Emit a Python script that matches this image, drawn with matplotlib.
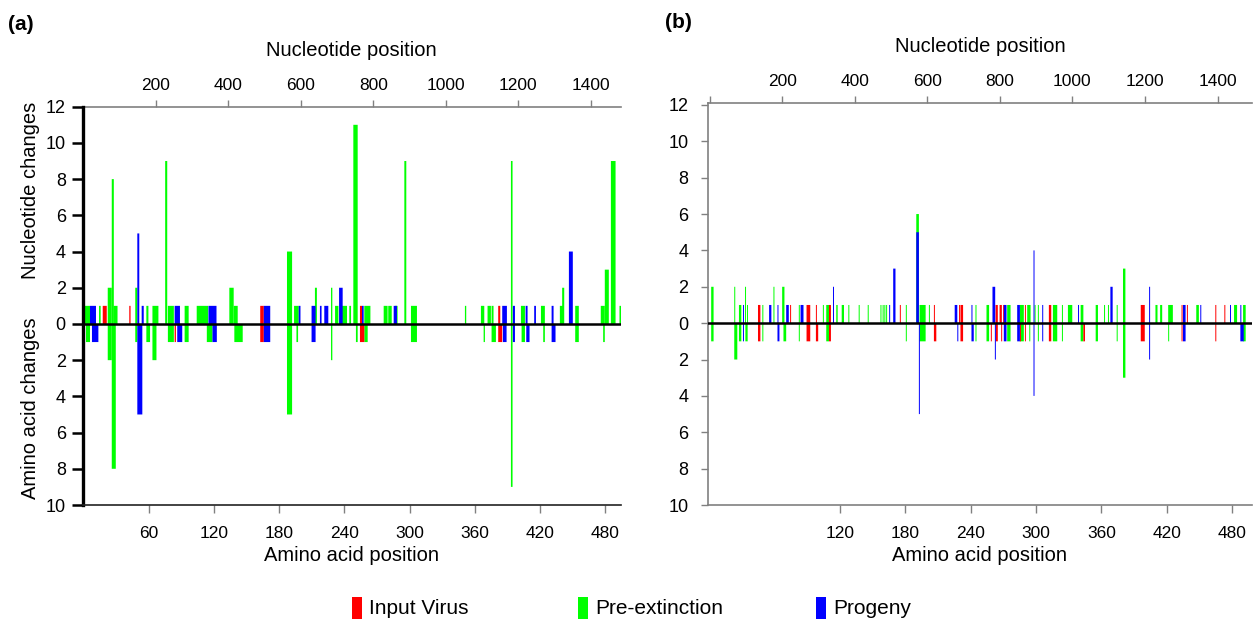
import matplotlib
matplotlib.use("Agg")
import matplotlib.pyplot as plt
from matplotlib.patches import Rectangle
from matplotlib.ticker import FuncFormatter

plt.rcParams['font.family'] = ['Liberation Sans', 'DejaVu Sans']

# each entry: (first aa position, last aa position, number of changes)
# panel (a)
A_INPUT_UP = [(17.9, 21.6, 1), (42.3, 43.5, 1), (162.7, 166.0, 1), (254.4, 256.3, 1), (381.5, 383.4, 1)]
A_INPUT_DOWN = [(84.0, 85.2, 1), (162.7, 166.0, 1), (254.4, 258.4, 1), (381.5, 385.2, 1)]
A_PRE_UP = [(0, 6.2, 1), (14.5, 16.0, 1), (22.5, 26.2, 2), (26.2, 28.1, 8), (27.8, 31.5, 1),
            (47.8, 49.7, 2), (58.0, 59.9, 1), (63.6, 69.1, 1), (75.3, 77.2, 9), (77.8, 83.3, 1),
            (93.2, 96.9, 1), (104.3, 114.8, 1), (134.3, 138.3, 2), (138.3, 142.0, 1), (187.3, 192.0, 4),
            (193.8, 198.1, 1), (213.0, 214.8, 2), (227.8, 229.0, 2), (231.5, 234.6, 1), (237.0, 242.5, 1),
            (244.6, 246.2, 1), (248.3, 252.3, 11), (258.4, 264.0, 1), (276.2, 279.8, 1), (280.4, 283.6, 1),
            (286.6, 289.0, 1), (295.2, 297.0, 9), (301.3, 306.8, 1), (350.9, 352.1, 1), (365.6, 368.7, 1),
            (371.7, 374.8, 1), (375.4, 377.2, 1), (393.2, 394.7, 9), (402.4, 406.1, 1), (420.8, 424.4, 1),
            (438.2, 441.6, 1), (440.3, 442.2, 2), (452.3, 455.6, 1), (475.8, 479.5, 1), (479.5, 483.2, 3),
            (485.1, 489.4, 9), (493.0, 495.2, 1)]
A_PRE_DOWN = [(2.5, 6.2, 1), (22.5, 26.2, 2), (26.2, 29.9, 8), (47.8, 49.7, 1), (58.0, 61.4, 1),
              (63.6, 67.3, 2), (77.8, 83.3, 1), (93.2, 96.9, 1), (113.6, 118.8, 1), (138.9, 146.6, 1),
              (187.3, 192.0, 5), (196.0, 197.5, 1), (227.8, 229.0, 2), (250.7, 252.3, 1), (258.4, 261.5, 1),
              (301.3, 306.8, 1), (368.1, 369.3, 1), (375.4, 379.4, 1), (393.2, 394.7, 9), (403.0, 406.1, 1),
              (422.9, 424.4, 1), (452.3, 455.6, 1), (478.0, 479.5, 1)]
A_PROG_UP = [(6.2, 11.7, 1), (49.7, 51.5, 5), (53.7, 55.6, 1), (84.0, 88.9, 1), (115.1, 122.5, 1),
             (166.0, 171.9, 1), (198.1, 199.7, 1), (209.9, 213.6, 1), (217.6, 219.1, 1), (221.6, 225.3, 1),
             (235.2, 238.5, 2), (256.3, 257.8, 1), (285.4, 288.4, 1), (385.2, 389.5, 1), (395.0, 396.9, 1),
             (406.7, 408.5, 1), (414.6, 416.2, 1), (430.6, 432.4, 1), (446.5, 450.1, 4)]
A_PROG_DOWN = [(8.0, 13.9, 1), (49.7, 54.3, 5), (86.4, 91.0, 1), (118.8, 122.8, 1), (166.0, 171.9, 1),
               (209.9, 213.6, 1), (385.8, 389.2, 1), (395.0, 396.9, 1), (407.3, 410.3, 1), (430.6, 434.2, 1)]

# panel (b)
B_INPUT_UP = [(44.5, 46.7, 1), (74.0, 74.9, 1), (89.1, 92.5, 1), (97.7, 98.6, 1), (109.7, 111.5, 1),
              (174.8, 175.7, 1), (206.1, 207.0, 1), (229.2, 230.1, 1), (230.5, 232.9, 1), (262.7, 264.8, 1),
              (266.4, 268.5, 1), (269.7, 271.3, 1), (289.7, 290.6, 1), (311.7, 313.9, 1), (396.1, 399.8, 1),
              (433.6, 434.5, 1), (438.5, 439.4, 1), (464.6, 465.5, 1), (472.9, 473.8, 1)]
B_INPUT_DOWN = [(44.5, 46.7, 1), (89.1, 92.5, 1), (97.7, 99.8, 1), (109.7, 111.5, 1), (206.1, 208.3, 1),
                (230.5, 232.9, 1), (258.4, 259.3, 1), (262.7, 264.8, 1), (267.9, 268.8, 1), (285.1, 286.0, 1),
                (289.7, 290.6, 1), (311.7, 313.9, 1), (343.4, 344.9, 1), (396.1, 399.8, 1), (433.6, 434.5, 1),
                (464.6, 465.5, 1)]
B_PRE_UP = [(1.5, 3.7, 2), (22.7, 23.6, 2), (27.0, 29.2, 1), (32.6, 33.5, 2), (34.4, 35.3, 1),
            (48.5, 49.4, 1), (58.7, 59.6, 2), (66.7, 68.8, 2), (82.0, 82.9, 1), (104.1, 105.0, 1),
            (107.2, 109.7, 1), (116.4, 117.7, 1), (121.4, 123.5, 1), (127.5, 128.4, 1), (137.0, 137.9, 1),
            (145.3, 146.2, 1), (157.0, 157.9, 1), (159.0, 159.9, 1), (160.6, 161.5, 1), (162.2, 163.1, 1),
            (180.3, 181.2, 1), (189.9, 192.3, 6), (192.9, 198.5, 1), (201.5, 202.4, 1), (244.3, 245.2, 1),
            (254.4, 256.8, 1), (273.4, 276.5, 1), (285.1, 288.7, 1), (291.8, 294.9, 1), (298.6, 299.5, 1),
            (301.6, 302.5, 1), (315.4, 319.4, 1), (323.7, 324.6, 1), (329.2, 333.2, 1), (340.9, 343.4, 1),
            (354.7, 356.8, 1), (362.4, 363.3, 1), (366.0, 366.9, 1), (374.0, 374.9, 1), (379.8, 382.0, 3),
            (409.6, 411.5, 1), (413.9, 415.8, 1), (421.3, 425.6, 1), (447.1, 449.5, 1), (481.8, 484.6, 1),
            (490.1, 492.5, 1)]
B_PRE_DOWN = [(1.5, 3.7, 1), (22.7, 25.5, 2), (27.0, 29.2, 1), (32.9, 35.0, 1), (48.5, 49.4, 1),
              (67.9, 70.4, 1), (82.0, 82.9, 1), (107.2, 109.7, 1), (180.3, 181.2, 1), (192.9, 198.5, 1),
              (244.3, 245.2, 1), (254.4, 256.8, 1), (273.4, 276.5, 1), (285.1, 288.7, 1), (293.7, 294.6, 1),
              (301.6, 302.5, 1), (315.4, 319.4, 1), (323.7, 324.6, 1), (340.9, 343.4, 1), (354.7, 356.8, 1),
              (374.0, 374.9, 1), (379.8, 382.0, 3), (421.3, 422.2, 1), (490.1, 492.5, 1)]
B_PROG_UP = [(30.7, 31.6, 1), (54.7, 56.8, 1), (62.4, 63.3, 1), (70.4, 72.8, 1), (83.6, 86.3, 1),
             (113.4, 114.3, 2), (165.0, 165.9, 1), (168.7, 170.8, 3), (189.9, 192.3, 5), (225.2, 227.6, 1),
             (240.6, 241.5, 1), (259.9, 262.4, 2), (270.3, 272.8, 1), (282.6, 285.1, 1), (297.6, 298.5, 4),
             (305.6, 306.5, 1), (338.5, 339.4, 1), (368.2, 370.3, 2), (403.8, 404.7, 2), (434.9, 437.3, 1),
             (450.8, 451.7, 1), (478.1, 479.0, 1), (487.6, 488.5, 1)]
B_PROG_DOWN = [(30.7, 31.6, 1), (62.4, 64.2, 1), (192.3, 193.2, 5), (227.6, 228.5, 1), (240.6, 242.7, 1),
               (262.1, 263.0, 2), (270.3, 272.8, 1), (282.6, 285.1, 1), (297.6, 298.5, 4), (305.6, 306.5, 1),
               (403.8, 404.7, 2), (434.9, 437.3, 1), (487.6, 490.7, 1)]

NT_TICKS = [200, 400, 600, 800, 1000, 1200, 1400]
AA_TICKS_A = [60, 120, 180, 240, 300, 360, 420, 480]
AA_TICKS_B = [120, 180, 240, 300, 360, 420, 480]
Y_TICKS = list(range(-10, 13, 2))
LEGEND_LABELS = ['Input Virus', 'Pre-extinction', 'Progeny']

RED, GREEN, BLUE = '#ff0000', '#00ff00', '#0000ff'
GREY = '#808080'

W, H = 1256, 621
fig = plt.figure(figsize=(W / 100, H / 100), dpi=100)
ax_a = fig.add_axes([82.5 / W, 1 - 505 / H, (621 - 82.5) / W, (505 - 106.7) / H])
ax_b = fig.add_axes([707.7 / W, 1 - 505 / H, (1252 - 707.7) / W, (505 - 103.3) / H])


def draw_bars(ax, segs, color, sign):
    starts = [s for s, e, v in segs]
    widths = [e - s for s, e, v in segs]
    heights = [sign * v for s, e, v in segs]
    ax.bar(starts, heights, width=widths, align='edge', color=color,
           edgecolor='none', linewidth=0, snap=False, zorder=2)


panels = [
    (ax_a, (A_INPUT_UP, A_INPUT_DOWN), (A_PRE_UP, A_PRE_DOWN), (A_PROG_UP, A_PROG_DOWN)),
    (ax_b, (B_INPUT_UP, B_INPUT_DOWN), (B_PRE_UP, B_PRE_DOWN), (B_PROG_UP, B_PROG_DOWN)),
]
for ax, inp, pre, prog in panels:
    for (up, down), col in [(pre, GREEN), (inp, RED), (prog, BLUE)]:
        draw_bars(ax, up, col, 1)
        draw_bars(ax, down, col, -1)
    ax.axhline(0, color='black', lw=1.8, zorder=5)

ax_a.set_xlim(-0.7, 494.4)
ax_a.set_ylim(-10, 12)
ax_b.set_xlim(-1.7, 498.3)
ax_b.set_ylim(-10, 12.09)
ax_a.set_xticks(AA_TICKS_A)
ax_b.set_xticks(AA_TICKS_B)

absfmt = FuncFormatter(lambda v, p: f"{abs(v):.0f}")
for ax in (ax_a, ax_b):
    ax.set_yticks(Y_TICKS)
    ax.yaxis.set_major_formatter(absfmt)
    ax.spines['right'].set_visible(False)
    ax.spines['top'].set_visible(False)
    ax.spines['bottom'].set_color(GREY)
    ax.spines['bottom'].set_linewidth(1.2)
    ax.tick_params(axis='x', direction='out', length=6, width=1, color=GREY, labelsize=12.5, pad=9)
    ax.set_xlabel('Amino acid position', fontsize=14.5, labelpad=4)

    top = ax.secondary_xaxis('top', functions=(lambda a: a * 3, lambda n: n / 3))
    top.spines['bottom'].set_visible(False)
    top.spines['top'].set_color(GREY)
    top.spines['top'].set_linewidth(1.2)
    top.tick_params(axis='x', direction='out', length=5, width=1, color=GREY, labelsize=12.5, pad=5)
    top.set_xlabel('Nucleotide position', fontsize=14.5, labelpad=16)
    if ax is ax_b:
        top.set_xticks([0] + NT_TICKS, labels=[''] + [str(t) for t in NT_TICKS])
    else:
        top.set_xticks(NT_TICKS)

# left axes differ between the two panels
ax_a.spines['left'].set_color('black')
ax_a.spines['left'].set_linewidth(2.4)
ax_a.spines['bottom'].set_color('#222222')
ax_a.tick_params(axis='y', direction='out', length=8, width=1.8, color='black', labelsize=13, pad=4)
ax_b.spines['left'].set_color(GREY)
ax_b.spines['left'].set_linewidth(1.2)
ax_b.tick_params(axis='y', direction='out', length=5, width=1, color=GREY, labelsize=13, pad=9)

fig.text(31 / W, 1 - 190 / H, 'Nucleotide changes', rotation=90, ha='center', va='center', fontsize=14.5)
fig.text(31 / W, 1 - 408 / H, 'Amino acid changes', rotation=90, ha='center', va='center', fontsize=14.5)

fig.text(21 / W, 1 - 24 / H, '(a)', fontsize=15, fontweight='bold', ha='center', va='center')
fig.text(678 / W, 1 - 23 / H, '(b)', fontsize=15, fontweight='bold', ha='center', va='center')

# legend along the bottom
for x0, label, col in zip([352, 578, 816], LEGEND_LABELS, [RED, GREEN, BLUE]):
    fig.add_artist(Rectangle((x0 / W, 1 - 619 / H), 10 / W, 22 / H, transform=fig.transFigure,
                             facecolor=col, edgecolor='none'))
    fig.text((x0 + 17) / W, 1 - 608 / H, label, fontsize=15, ha='left', va='center')

fig.savefig('out.png', dpi=100)
